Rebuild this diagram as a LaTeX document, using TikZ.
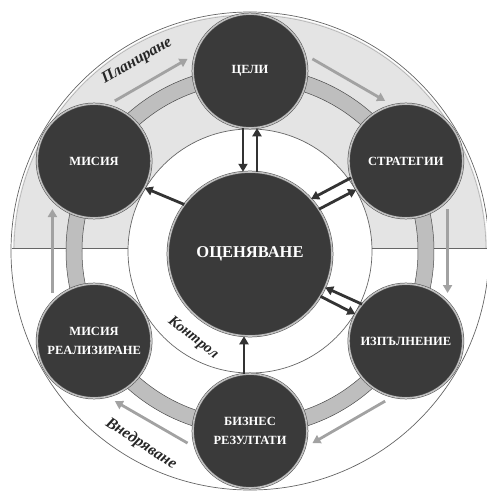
\documentclass[tikz,border=0pt]{standalone}
\usepackage{fontspec}
\setmainfont{Liberation Serif}
\usetikzlibrary{arrows.meta}

\definecolor{discfill}{HTML}{3A3A3A}
\definecolor{bandfill}{HTML}{E4E4E4}
\definecolor{trackfill}{HTML}{BEBEBE}
\definecolor{flowgray}{HTML}{A2A2A2}

\tikzset{
	disc/.style={circle, fill=discfill, draw=black!70, line width=.5pt, double=gray!50, double distance=1.6pt,
		minimum size=114pt, inner sep=0pt, text=white, align=center,
		font=\bfseries\fontsize{12.5}{19}\selectfont},
	rim/.style={draw=gray!80!black, line width=.7pt},
	darr/.style={draw=black!80, line width=2.8pt, -{Triangle[length=8pt,width=9pt]}},
	flow/.style={draw=flowgray, line width=2.8pt, -{Triangle[length=8pt,width=9pt]}},
	lbl/.style={text=black!85, font=\bfseries\itshape\fontsize{16}{18}\selectfont}
}

\begin{document}
\begin{tikzpicture}[x=1pt, y=1pt]
	\useasboundingbox (-250,-240) rectangle (237,251);

	\begin{scope}
		\clip (-250,3) rectangle (250,260);
		\fill[bandfill, even odd rule] (0,0) circle (237) (0,0) circle (122);
		\draw[draw=gray!60, line width=.6pt] (0,0) circle (236);
	\end{scope}
	\draw[rim] (0,0) circle (239);
	\draw[rim] (0,0) circle (122);
	\draw[rim] (-238,3) -- (-122,3);
	\draw[rim] (122,3) -- (238,3);

	\fill[trackfill, even odd rule] (0,0) circle (184) (0,0) circle (168);
	\draw[draw=black!70, line width=.5pt] (0,0) circle (184) (0,0) circle (168);

	\foreach \a in {180,120,60,0,-60,-120}
		\draw[flow] (\a+12:202) -- (\a-12:202);

	\node[disc] (cel) at (90:180) {ЦЕЛИ};
	\node[disc] (strat) at (30:180) {СТРАТЕГИИ};
	\node[disc] (izp) at (-30:180) {ИЗПЪЛНЕНИЕ};
	\node[disc] (biz) at (-90:180) {БИЗНЕС\\РЕЗУЛТАТИ};
	\node[disc] (real) at (-150:180) {МИСИЯ\\РЕАЛИЗИРАНЕ};
	\node[disc] (misia) at (150:180) {МИСИЯ};
	\node[disc, minimum size=164pt, font=\bfseries\fontsize{16.5}{19}\selectfont] (ocen) at (0,-3) {ОЦЕНЯВАНЕ};

	\draw[darr] ([xshift=-7pt]cel.south) -- ([xshift=-7pt]ocen.north);
	\draw[darr] ([xshift=7pt]ocen.north) -- ([xshift=7pt]cel.south);
	\draw[darr] (ocen.143) -- (misia.-28);
	\draw[darr] (strat.197) -- (ocen.42);
	\draw[darr] (ocen.33) -- (strat.210);
	\draw[darr] (izp.140) -- (ocen.-24);
	\draw[darr] (ocen.-31) -- (izp.152);
	\draw[darr] ([xshift=-6pt]biz.north) -- ([xshift=-6pt]ocen.south);

	\node[lbl, rotate=30] (plan) at (-113,190) {Планиране};
	\node[lbl, rotate=-33] (vned) at (-109,-193) {Внедряване};
	\node[lbl, rotate=-38, font=\bfseries\itshape\fontsize{15}{17}\selectfont] (kontr) at (-57,-87) {Контрол};
\end{tikzpicture}
\end{document}
